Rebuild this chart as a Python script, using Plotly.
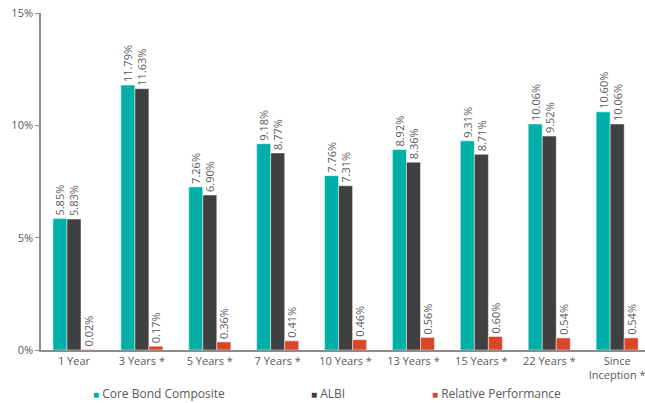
import plotly.graph_objects as go

categories = ["1 Year", "3 Years *", "5 Years *", "7 Years *", "10 Years *",
              "13 Years *", "15 Years *", "22 Years *", "Since<br>Inception *"]
core_bond = [5.85, 11.79, 7.26, 9.18, 7.76, 8.92, 9.31, 10.06, 10.60]
albi = [5.83, 11.63, 6.90, 8.77, 7.31, 8.36, 8.71, 9.52, 10.06]
relative = [0.02, 0.17, 0.36, 0.41, 0.46, 0.56, 0.60, 0.54, 0.54]
series_names = ["Core Bond Composite", "ALBI", "Relative Performance"]
colors = ["#00B0A8", "#404040", "#D9472B"]
y_ticks = [0, 5, 10, 15]
y_tick_labels = ["0%", "5%", "10%", "15%"]

FONT = "Open Sans"
GREY = "#595959"

fig = go.Figure()
for i, (name, vals) in enumerate(zip(series_names, [core_bond, albi, relative])):
    fig.add_trace(go.Bar(
        x=categories, y=vals, name=name,
        marker=dict(color=colors[i], line=dict(color="rgba(255,255,255,0.6)", width=0.8)),
        text=[f"{v:.2f}%" for v in vals],
        textposition="outside", textangle=-90, constraintext="none",
        textfont=dict(family=FONT, size=11, color=GREY),
        cliponaxis=False, showlegend=False, hoverinfo="skip",
    ))
    legend_name = "legend" if i == 0 else f"legend{i+1}"
    fig.add_trace(go.Scatter(
        x=[None], y=[None], mode="markers",
        name=f'<span style="color:{colors[i]};font-size:10px">■</span> {name}',
        marker=dict(symbol="square", size=1, color="rgba(0,0,0,0)"),
        legend=legend_name, showlegend=True,
    ))

# legend left positions in paper fraction (plot area spans px 41..645)
legend_px = [93, 311, 432]
legend_x = [(p - 41 - 40) / 604 for p in legend_px]

legend_common = dict(orientation="h", yanchor="middle", y=-0.128, xanchor="left",
                     font=dict(family=FONT, size=12, color=GREY),
                     itemwidth=30, bgcolor="rgba(0,0,0,0)", borderwidth=0)

fig.update_layout(
    width=645, height=403,
    margin=dict(l=41, r=0, t=13, b=53, autoexpand=False),
    paper_bgcolor="white", plot_bgcolor="white",
    barmode="group", bargap=0.38, bargroupgap=0,
    font=dict(family=FONT, size=11, color=GREY),
    legend=dict(x=legend_x[0], **legend_common),
    legend2=dict(x=legend_x[1], **legend_common),
    legend3=dict(x=legend_x[2], **legend_common),
    xaxis=dict(
        range=[-0.486, 8.41], showline=True, linecolor="#8c8c8c", linewidth=1.5,
        ticks="", tickfont=dict(family=FONT, size=11, color=GREY), showgrid=False,
        tickangle=0,
    ),
    yaxis=dict(
        range=[0, 15], tickvals=y_ticks, ticktext=y_tick_labels,
        showline=True, linecolor="#8c8c8c", linewidth=1.5, ticks="outside",
        ticklen=4, tickcolor="#8c8c8c", showgrid=False, zeroline=False,
        tickfont=dict(family=FONT, size=11, color=GREY),
    ),
)

fig.write_html("out.html", config={"displayModeBar": False},
               post_script="document.body.style.margin='0';document.body.style.overflow='hidden';")
